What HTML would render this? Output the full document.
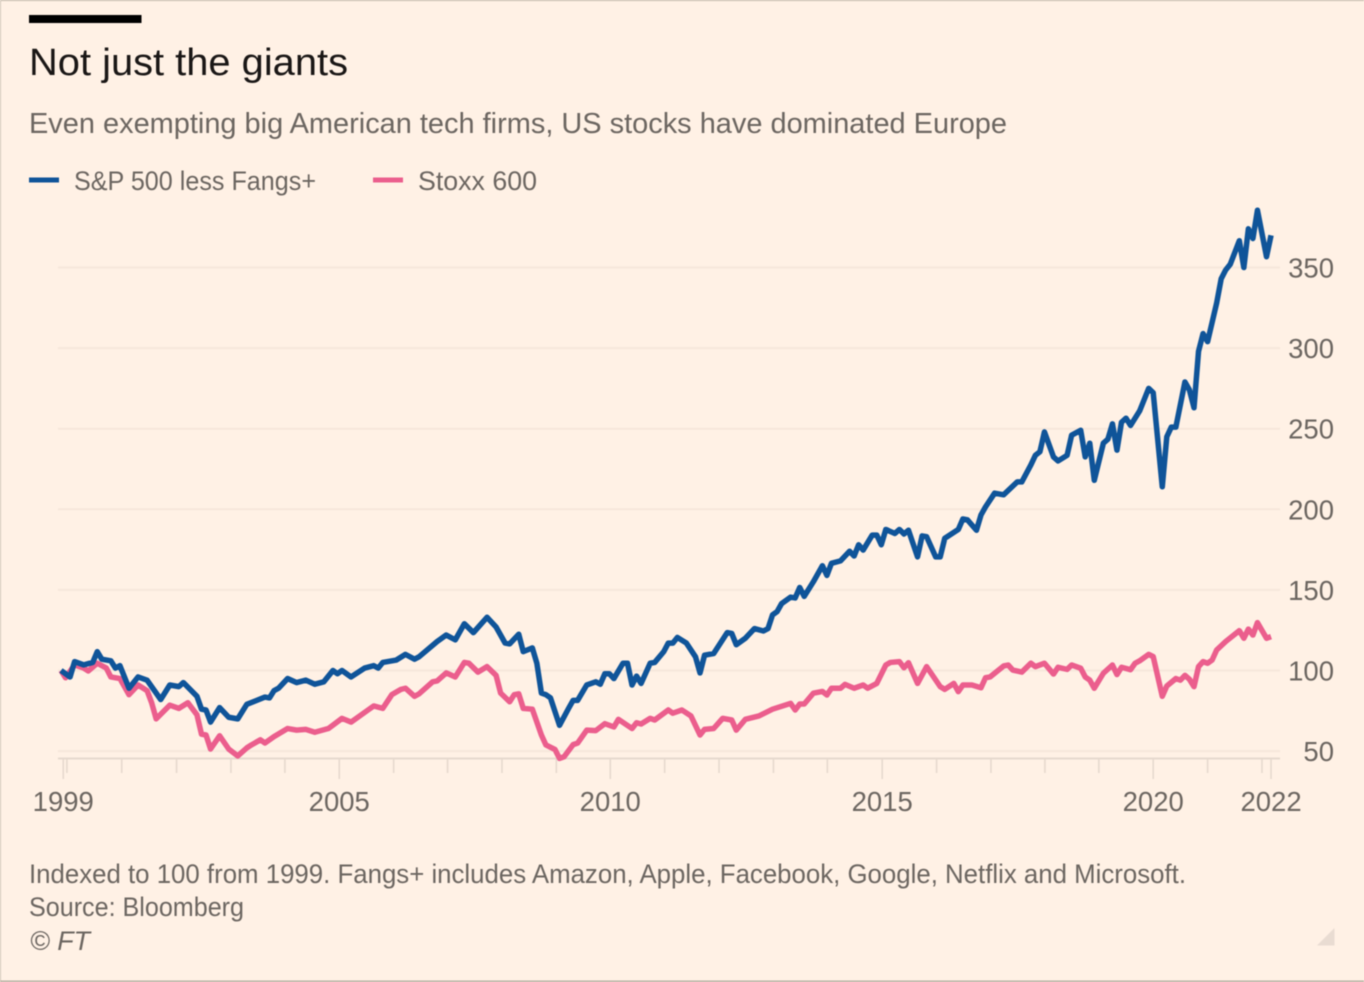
<!DOCTYPE html>
<html lang="en">
<head>
<meta charset="utf-8">
<title>Not just the giants</title>
<style>
html,body{margin:0;padding:0;background:#fff1e5;}
body{width:1364px;height:982px;overflow:hidden;}
svg{display:block;filter:blur(0.6px);}
text{font-family:"Liberation Sans",sans-serif;}
</style>
</head>
<body>
<svg id="chart" xmlns="http://www.w3.org/2000/svg" width="1364" height="982" viewBox="0 0 1364 982">
  <rect x="0" y="0" width="1364" height="982" fill="#fff1e5"/>
  <rect x="0" y="0" width="1364" height="1" fill="#bfb7aa"/>
  <rect x="0" y="0" width="1" height="982" fill="#cfc6b9"/>
  <rect x="0" y="980.5" width="1364" height="1.5" fill="#b5ada1"/>
  <rect x="29" y="15" width="112.5" height="8" fill="#000000"/>
  <text x="29" y="75" font-size="38" fill="#1a1716" textLength="319" lengthAdjust="spacingAndGlyphs">Not just the giants</text>
  <text x="29" y="133" font-size="29" fill="#6c6661" textLength="978" lengthAdjust="spacingAndGlyphs">Even exempting big American tech firms, US stocks have dominated Europe</text>

  <rect x="29" y="177.5" width="30" height="5" fill="#0f5499"/>
  <text x="74" y="190" font-size="27" fill="#6c6661" textLength="242" lengthAdjust="spacingAndGlyphs">S&amp;P 500 less Fangs+</text>
  <rect x="373" y="177.5" width="30" height="5" fill="#eb5e8d"/>
  <text x="418" y="190" font-size="27" fill="#6c6661" textLength="119" lengthAdjust="spacingAndGlyphs">Stoxx 600</text>

  <g id="grid"></g>
  <g id="axis"></g>
  <g id="ylabels"></g>
  <g id="series"></g>

  <text x="29" y="883" font-size="27" fill="#6c6661" textLength="1157" lengthAdjust="spacingAndGlyphs">Indexed to 100 from 1999. Fangs+ includes Amazon, Apple, Facebook, Google, Netflix and Microsoft.</text>
  <text x="29" y="916" font-size="27" fill="#6c6661" textLength="215" lengthAdjust="spacingAndGlyphs">Source: Bloomberg</text>
  <text x="30" y="950" font-size="27" font-style="italic" fill="#6c6661" textLength="60" lengthAdjust="spacingAndGlyphs">© FT</text>
  <polygon points="1317,945.5 1334.5,945.5 1334.5,928" fill="#e9dcd2"/>
</svg>
<script>
// Months since the start of the series, and index values at those months
const blueMonths = [
  0,2,3,5,7,8,9,11,12,13,15,17,
  19,22,24,26,27,30,31,32,33,35,37,39,
  41,45,46,47,48,50,52,54,56,58,60,61,
  62,64,67,69,70,71,74,76,78,79,83,85,
  87,89,91,94,96,98,99,101,102,104,105,106,
  107,108,110,112,113,114,116,118,119,120,121,122,
  124,125,126,127,128,130,131,133,134,135,136,138,
  140,141,142,144,147,148,149,151,153,155,156,157,
  158,159,161,162,163,164,166,168,169,170,172,174,
  175,176,177,179,180,181,182,184,185,186,187,189,
  190,191,193,194,195,198,199,200,202,203,204,206,
  208,211,212,214,215,216,217,219,220,222,223,225,
  226,227,228,230,231,232,233,234,235,236,238,240,
  241,243,244,245,246,248,249,250,251,252,253,255,
  256,257,258,260,261,262,263,264,266,267
];
const blueValues = [
  100,96,105.5,103.5,105,111.7,107,106,101.5,103,89,96,
  94,82,91,90,92.5,84,76,75.5,68,77,71,70,
  79,83.5,83,87.5,89,95,92.5,94,91.5,93,100,98,
  100,96,101.5,103,101.5,105,106.5,110,107,108.5,118,122,
  119,129,123.5,133,127,117,116.5,122.5,111.7,114,104.5,86,
  85,83,66,76.5,81.5,81.5,91,93,91.5,98,98,95,
  104.5,104.5,91,96.5,92,104.5,105,111.7,117,117,120.5,117,
  108.5,98.5,109.5,110.5,123.5,123,116,120,126,124.5,126,134.5,
  136.5,141.5,145.5,145,151.5,146,155,165,159,166.5,168,174,
  171,178,174.7,184,184,178,187.5,185,187.5,184.7,187,170.5,
  183.5,183,170.5,170.5,182,187.5,194,193.5,187,196.5,201.5,210,
  209,217,217,227.5,233.5,235.7,248,232.5,230,233.5,246,249,
  232.5,241,218,241,243.5,253,236.7,254,256.5,252,261,275,
  272.3,214,245,251,251,279,274,263,298,309,304,328,
  343,348.5,352,366.6,350,374,368,385.5,356.7,370
];
const pinkMonths = [
  0,1,3,5,6,8,10,11,13,15,17,19,
  20,21,24,26,28,30,31,32,33,35,37,39,
  41,42,44,45,47,50,52,54,56,59,62,64,
  68,69,71,73,75,76,78,79,82,83,85,87,
  89,90,92,94,96,97,99,100,101,102,104,106,
  107,109,110,111,113,114,116,118,120,122,123,126,
  127,128,130,131,134,135,137,139,141,142,144,146,
  148,149,151,154,157,161,162,163,164,166,168,169,
  170,172,173,175,177,178,180,182,183,185,186,187,
  189,191,194,195,197,198,199,201,203,204,205,208,
  209,210,212,214,215,217,219,220,222,223,225,226,
  227,228,230,232,233,234,236,237,238,240,241,243,
  244,246,247,248,249,250,251,252,253,254,255,257,
  260,261,262,263,264,266,267
];
const pinkValues = [
  100,95.5,103.5,101.5,99.7,104.5,101.5,96,95,85,91,87.5,
  80,70,78.5,76.5,80,72.5,60.5,60,51.3,59.5,51.3,47,
  52,53.8,57,55,59,64,63,63.5,61.7,64,70.3,68,
  76,78,76.5,85,88.3,89,84,85.5,93,93.5,98.5,96,
  105,104.5,99,102.4,97,86,80.6,85,85.5,76.5,76,60,
  53.8,51,45.5,46.5,54,55,63,62.7,67,65,69.7,64,
  67.6,66.8,70.3,69.3,75.5,73.5,75.5,71.8,60,63.5,64,70.3,
  69.3,63,69.7,71.8,76,79.6,75.5,79.2,79.2,85.9,87,84.8,
  89,89,91.4,89,91,89,92,103.4,105,105.5,101.7,104.8,
  92,102.4,90,88.3,92,86.9,91,91,89.3,95.5,96,102.8,
  103.4,100.3,99,104.5,102.4,104.5,97.8,102,100.7,103.4,101.4,96,
  94,89,98.3,103.4,97.5,102,100.5,104.5,106,110,108.6,84,
  90.4,95,94,97,94.5,90,102.4,105.5,104.5,106.5,112.7,118,
  124.7,120,125.7,122,129.7,120,121
];
const yTicks = [50,100,150,200,250,300,350];
const minorTickMonths = [1.3,13.4,25.5,37.5,49.4,73.4,85.3,97.3,109.3,133.2,145.2,157.2,169.1,193.2,205.2,217.1,229,253,265];
const majorTickMonths = [0.5,61.4,121.2,181.2,241,267];
const majorTickLabels = ["1999","2005","2010","2015","2020","2022"];

const NS = "http://www.w3.org/2000/svg";
const xScale = m => 61 + m * 4.532;
const yScale = v => 670.5 - (v - 100) * 1.612;
const make = (parent, tag) => {
  const e = document.createElementNS(NS, tag);
  parent.appendChild(e);
  return e;
};
const gridGroup = document.getElementById("grid");
const axisGroup = document.getElementById("axis");
const yGroup = document.getElementById("ylabels");
const seriesGroup = document.getElementById("series");

yTicks.forEach(v => {
  const line = make(gridGroup, "line");
  
  
  line.setAttribute("x1", 58);
  line.setAttribute("x2", 1280);
  line.setAttribute("y1", yScale(v));
  line.setAttribute("y2", yScale(v));
  line.setAttribute("stroke", "#f6e7db");
  line.setAttribute("stroke-width", 2);
  const label = make(yGroup, "text");
  
  
  label.setAttribute("x", 1334);
  label.setAttribute("y", yScale(v) + 10);
  label.setAttribute("text-anchor", "end");
  label.setAttribute("font-size", 27.5);
  label.setAttribute("fill", "#6c6661");
  label.textContent = v;
});

const baseline = make(axisGroup, "line");


baseline.setAttribute("x1", 58);
baseline.setAttribute("x2", 1280);
baseline.setAttribute("y1", 758.5);
baseline.setAttribute("y2", 758.5);
baseline.setAttribute("stroke", "#e6d9ce");
baseline.setAttribute("stroke-width", 2);

minorTickMonths.forEach(m => {
  const tick = make(axisGroup, "line");
  
  
  tick.setAttribute("x1", xScale(m));
  tick.setAttribute("x2", xScale(m));
  tick.setAttribute("y1", 758);
  tick.setAttribute("y2", 773);
  tick.setAttribute("stroke", "#e6d9ce");
  tick.setAttribute("stroke-width", 1.6);
});
majorTickMonths.forEach((m, i) => {
  const tick = make(axisGroup, "line");
  
  
  tick.setAttribute("x1", xScale(m));
  tick.setAttribute("x2", xScale(m));
  tick.setAttribute("y1", 758);
  tick.setAttribute("y2", 779);
  tick.setAttribute("stroke", "#e6d9ce");
  tick.setAttribute("stroke-width", 1.6);
  const label = make(axisGroup, "text");
  
  
  label.setAttribute("x", xScale(m));
  label.setAttribute("y", 811);
  label.setAttribute("text-anchor", "middle");
  label.setAttribute("font-size", 27.5);
  label.setAttribute("fill", "#6c6661");
  label.textContent = majorTickLabels[i];
});

const pinkLine = make(seriesGroup, "polyline");


pinkLine.setAttribute("points", pinkMonths.map((m, i) => xScale(m) + "," + yScale(pinkValues[i])).join(" "));
pinkLine.setAttribute("fill", "none");
pinkLine.setAttribute("stroke", "#eb5e8d");
pinkLine.setAttribute("stroke-width", 5.5);
pinkLine.setAttribute("stroke-linejoin", "round");

const blueLine = make(seriesGroup, "polyline");


blueLine.setAttribute("points", blueMonths.map((m, i) => xScale(m) + "," + yScale(blueValues[i])).join(" "));
blueLine.setAttribute("fill", "none");
blueLine.setAttribute("stroke", "#0f5499");
blueLine.setAttribute("stroke-width", 5.5);
blueLine.setAttribute("stroke-linejoin", "round");
</script>
</body>
</html>
